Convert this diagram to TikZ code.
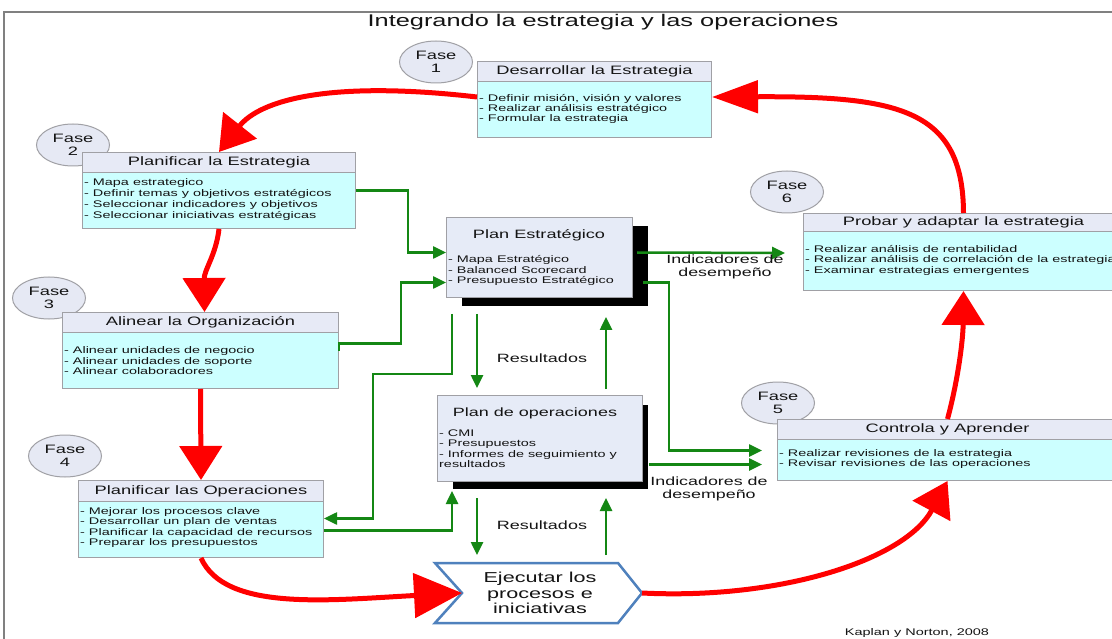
\documentclass[tikz,border=0pt]{standalone}
\usepackage{fontspec}
\setmainfont[FakeStretch=1.5]{Liberation Sans}
\usetikzlibrary{arrows.meta,shapes.geometric,calc}
\definecolor{hdrfill}{RGB}{231,234,246}
\definecolor{bodyfill}{RGB}{204,255,255}
\definecolor{boxline}{RGB}{160,160,165}
\definecolor{fasefill}{RGB}{230,233,244}
\definecolor{grn}{RGB}{20,135,20}
\definecolor{chevblue}{RGB}{79,129,189}
\definecolor{planfill}{RGB}{230,235,247}
\definecolor{txt}{RGB}{20,20,20}
\begin{document}
\begin{tikzpicture}[x=1pt,y=-1pt,
 every node/.style={text=txt},
 hdr/.style={rectangle, draw=boxline, fill=hdrfill, line width=1pt, anchor=north west, inner sep=0pt, minimum height=20pt, font=\fontsize{12.2}{13}\selectfont},
 bodybox/.style={rectangle, draw=boxline, fill=bodyfill, line width=1pt, anchor=north west, inner sep=0pt},
 listtxt/.style={anchor=west, align=left, inner sep=0pt, font=\fontsize{9.6}{10.5}\selectfont},
 fase/.style={ellipse, draw=boxline, fill=fasefill, line width=1pt, minimum width=73pt, minimum height=42pt, inner sep=0pt, align=center, font=\fontsize{12.2}{13}\selectfont},
 plan/.style={rectangle, draw=boxline, fill=planfill, line width=1pt, anchor=north west, inner sep=0pt},
 redarrow/.style={draw=red, line width=5pt, -{Triangle[length=34pt,width=42pt]}},
 garrow/.style={draw=grn, line width=2.5pt, -{Triangle[length=13pt,width=12pt]}},
 lbl/.style={align=center, inner sep=0pt, font=\fontsize{11.9}{13}\selectfont},
 restxt/.style={inner sep=0pt, font=\fontsize{12}{13}\selectfont}
]
\clip (0,0) rectangle (1112,639);
\fill[white] (0,0) rectangle (1112,639);
\draw[gray, line width=1.5pt] (4,639) -- (4,12) -- (1112,12);

\node[font=\fontsize{16.9}{18}\selectfont, inner sep=0pt] (title) at (603,22) {Integrando la estrategia y las operaciones};

% Fase ellipses
\node[fase] (f1) at (436,62) {Fase\\1};
\node[fase] (f2) at (73,145) {Fase\\2};
\node[fase] (f3) at (49,298) {Fase\\3};
\node[fase] (f4) at (65,456) {Fase\\4};
\node[fase] (f5) at (778,403) {Fase\\5};
\node[fase] (f6) at (787,192) {Fase\\6};

% Box 1
\node[bodybox, minimum width=234pt, minimum height=56pt] (b1b) at (477,81) {};
\node[hdr, minimum width=234pt] (b1h) at (477,61) {Desarrollar la Estrategia};
\node[listtxt, font=\fontsize{9.6}{10}\selectfont] (b1l) at (479,109) {- Definir misión, visión y valores\\- Realizar análisis estratégico\\- Formular la estrategia};

% Box 2
\node[bodybox, minimum width=273pt, minimum height=56pt] (b2b) at (82,172) {};
\node[hdr, minimum width=273pt] (b2h) at (82,152) {Planificar la Estrategia};
\node[listtxt, font=\fontsize{9.6}{10.8}\selectfont] (b2l) at (84,199.5) {- Mapa estrategico\\- Definir temas y objetivos estratégicos\\- Seleccionar indicadores y objetivos\\- Seleccionar iniciativas estratégicas};

% Box 3
\node[bodybox, minimum width=276pt, minimum height=56pt] (b3b) at (62,332) {};
\node[hdr, minimum width=276pt] (b3h) at (62,312) {Alinear la Organización};
\node[listtxt] (b3l) at (64,361) {- Alinear unidades de negocio\\- Alinear unidades de soporte\\- Alinear colaboradores};

% Box 4
\node[bodybox, minimum width=245pt, minimum height=56pt] (b4b) at (78,501) {};
\node[hdr, minimum width=245pt, minimum height=21pt] (b4h) at (78,480) {Planificar las Operaciones};
\node[listtxt, font=\fontsize{9.6}{10.4}\selectfont] (b4l) at (80,527.5) {- Mejorar los procesos clave\\- Desarrollar un plan de ventas\\- Planificar la capacidad de recursos\\- Preparar los presupuestos};

% Box 5
\node[bodybox, minimum width=340pt, minimum height=41pt] (b5b) at (777,439) {};
\node[hdr, minimum width=340pt] (b5h) at (777,419) {Controla y Aprender};
\node[listtxt] (b5l) at (779,459) {- Realizar revisiones de la estrategia\\- Revisar revisiones de las operaciones};

% Box 6
\node[bodybox, minimum width=320pt, minimum height=59pt] (b6b) at (803,231) {};
\node[hdr, minimum width=320pt, minimum height=18pt] (b6h) at (803,213) {Probar y adaptar la estrategia};
\node[listtxt] (b6l) at (805,260) {- Realizar análisis de rentabilidad\\- Realizar análisis de correlación de la estrategia\\- Examinar estrategias emergentes};

% Plan Estrategico
\fill[black] (462,226) rectangle (648,306);
\node[plan, minimum width=186pt, minimum height=80pt] (pe) at (446,217) {};
\node[inner sep=0pt, font=\fontsize{12.1}{13}\selectfont] (pet) at (539,235) {Plan Estratégico};
\node[listtxt] (pel) at (448,270.5) {- Mapa Estratégico\\- Balanced Scorecard\\- Presupuesto Estratégico};

% Plan de operaciones
\fill[black] (453,405) rectangle (648,489);
\node[plan, minimum width=205pt, minimum height=86pt] (po) at (437,395) {};
\node[inner sep=0pt, font=\fontsize{12}{13}\selectfont] (pot) at (535,413) {Plan de operaciones};
\node[listtxt] (pol) at (439,448.5) {- CMI\\- Presupuestos\\- Informes de seguimiento y\\resultados};

% Ejecutar chevron
\draw[chevblue, line width=2.5pt, fill=white, line join=miter] (435,563) -- (618,563) -- (642,593) -- (618,623) -- (435,623) -- (462,593) -- cycle;
\node[align=center, inner sep=0pt, font=\fontsize{14.4}{15.5}\selectfont] (ej) at (540,593) {Ejecutar los\\procesos e\\iniciativas};
\coordinate (ejL) at (462,593);
\coordinate (ejR) at (642,593);
\coordinate (ejD) at (477,555);
\coordinate (ejU) at (606,555);

% Red arrows
\draw[redarrow] ([yshift=-16pt]b1b.north west) .. controls (330,80) and (260,100) .. (b2h.north);
\draw[redarrow, -{Triangle[length=46pt,width=32pt]}] (b6h.north) .. controls (963,110) and (900,96) .. ([yshift=-16pt]b1b.north east);
\draw[redarrow] (b2b.south) .. controls (216,255) and (204,270) .. ([xshift=4pt]b3h.north);
\draw[redarrow] (b3b.south) -- (b4h.north);
\draw[redarrow, -{Triangle[length=48pt,width=44pt]}] (b4b.south) .. controls (225,612) and (330,600) .. (ejL);
\draw[redarrow] (ejR) .. controls (780,600) and (905,560) .. (b5b.south);
\draw[redarrow] (b5h.north) .. controls (958,380) and (963,340) .. (b6b.south);

% Green arrows
\draw[garrow] ([yshift=10pt]b2b.east) -- ++(52,0) |- ([yshift=5pt]pe.west);
\draw[garrow] ([yshift=10pt]b3b.east) -- ++(0,-7) -- ++(62,0) |- ([yshift=-25pt]pe.west);
\draw[garrow] ([xshift=6pt,yshift=-16pt]pe.south west) -- ++(0,60) -- ++(-79,0) |- ([yshift=11pt]b4b.east);
\draw[garrow] ([yshift=-1pt]b4b.east) -| ([xshift=15pt,yshift=-9pt]po.south west);
\draw[garrow] ([xshift=31pt,yshift=-16pt]pe.south west) -- ([xshift=40pt,yshift=7pt]po.north west);
\draw[garrow] ([xshift=169pt,yshift=6pt]po.north west) -- ([xshift=160pt,yshift=-19pt]pe.south west);
\draw[garrow] ([xshift=40pt,yshift=-16pt]po.south west) -- (ejD);
\draw[garrow] (ejU) -- ([xshift=169pt,yshift=-16pt]po.south west);
\draw[garrow] ([xshift=4pt,yshift=5pt]pe.east) -- ([xshift=-18pt,yshift=8pt]b6b.west);
\draw[garrow] ([xshift=10pt,yshift=-25pt]pe.east) -- ++(26,0) |- ([xshift=-15pt,yshift=9.5pt]b5b.west);
\draw[garrow] ([xshift=6pt,yshift=-26pt]po.east) -- ([xshift=-15pt,yshift=-4.5pt]b5b.west);

% Labels
\node[lbl] (ind1) at (725,267) {Indicadores de\\desempeño};
\node[lbl] (ind2) at (709,488.5) {Indicadores de\\desempeño};
\node[restxt] (res1) at (542,358) {Resultados};
\node[restxt] (res2) at (542,525) {Resultados};
\node[inner sep=0pt, font=\fontsize{9.65}{11}\selectfont] (kap) at (917,633) {Kaplan y Norton, 2008};
\end{tikzpicture}
\end{document}
